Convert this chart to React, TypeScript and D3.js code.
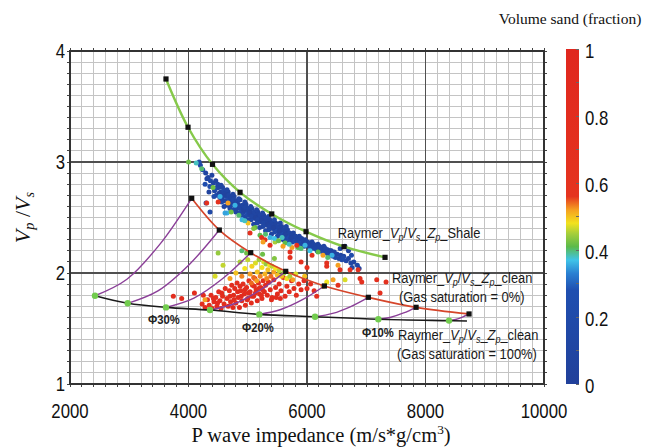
import React from 'react';
import * as d3 from 'd3';

// ---------- axes / ticks ----------
const xTicks = [2000, 4000, 6000, 8000, 10000];
const yTicks = [1, 2, 3, 4];
const cbTicks = [0, 0.2, 0.4, 0.6, 0.8, 1];
const cbTickLabels = ['0', '0.2', '0.4', '0.6', '0.8', '1'];

// ---------- model curves (Zp in m/s*g/cm3, Vp/Vs) ----------
const shaleZp = [3620, 3992, 4405, 4870, 5405, 5984, 6625, 7317];
const shaleVpVs = [3.748, 3.313, 2.979, 2.727, 2.532, 2.372, 2.237, 2.141];
const brineZp = [4054, 4520, 5050, 5641, 6293, 7035, 7841, 8735];
const brineVpVs = [2.673, 2.387, 2.183, 2.015, 1.883, 1.781, 1.691, 1.631];
const gasZp = [2422, 2974, 3620, 4363, 5195, 6136, 7204, 8397];
const gasVpVs = [1.795, 1.727, 1.69, 1.666, 1.627, 1.606, 1.583, 1.571];
const gasLineEnd = [8700, 1.568];
// intermediate points read along each fluid-substitution (purple) curve
const fluidA_Zp = [2961, 3484, 4092, 4785, 5557, 6433, 7414, 8509];
const fluidA_VpVs = [1.944, 1.839, 1.774, 1.725, 1.671, 1.636, 1.601, 1.581];
const fluidB_Zp = [3515, 4010, 4578, 5219, 5931, 6738, 7631, 8623];
const fluidB_VpVs = [2.258, 2.075, 1.95, 1.85, 1.762, 1.698, 1.64, 1.603];

// ---------- well-log samples [Zp, Vp/Vs, Vsand] ----------
const shaleTrend = [
  [4200, 2.97, .15], [4240, 2.93, .2], [4290, 2.9, .1], [4310, 2.85, .12], [4280, 2.8, .25],
  [4330, 2.86, .1], [4370, 2.83, .15], [4360, 2.78, .2], [4395, 2.88, .08], [4345, 2.73, .05],
  [4420, 2.81, .1], [4440, 2.74, .12], [4460, 2.83, .05], [4470, 2.7, .18], [4480, 2.77, .1], [4430, 2.69, .22], [4495, 2.8, .1], [4455, 2.76, .2],
  [4510, 2.77, .1], [4530, 2.68, .15], [4545, 2.73, .08], [4560, 2.64, .2], [4575, 2.77, .1], [4590, 2.7, .12], [4520, 2.72, .05], [4565, 2.67, .1], [4598, 2.74, .15],
  [4610, 2.72, .1], [4625, 2.65, .1], [4640, 2.69, .2], [4655, 2.61, .12], [4670, 2.73, .08], [4685, 2.66, .15], [4695, 2.62, .1], [4630, 2.7, .05], [4680, 2.7, .12],
  [4710, 2.68, .1], [4720, 2.61, .15], [4740, 2.65, .08], [4755, 2.57, .2], [4770, 2.69, .1], [4780, 2.63, .12], [4795, 2.59, .1], [4735, 2.62, .05], [4760, 2.66, .15],
  [4810, 2.65, .1], [4825, 2.58, .12], [4840, 2.62, .1], [4855, 2.54, .15], [4870, 2.66, .08], [4885, 2.6, .1], [4895, 2.56, .2], [4830, 2.61, .05], [4865, 2.59, .12],
  [4910, 2.61, .1], [4925, 2.55, .1], [4940, 2.58, .15], [4955, 2.51, .12], [4970, 2.62, .08], [4985, 2.56, .1], [4995, 2.53, .2], [4930, 2.57, .05], [4965, 2.59, .12],
  [5010, 2.58, .1], [5025, 2.52, .12], [5040, 2.55, .1], [5055, 2.48, .15], [5070, 2.58, .08], [5085, 2.53, .1], [5095, 2.5, .2], [5035, 2.54, .05], [5065, 2.51, .12],
  [5110, 2.55, .1], [5125, 2.49, .12], [5140, 2.52, .1], [5155, 2.45, .15], [5170, 2.55, .08], [5185, 2.5, .1], [5195, 2.47, .2], [5135, 2.5, .05], [5165, 2.48, .12],
  [5210, 2.52, .1], [5225, 2.46, .12], [5240, 2.49, .1], [5255, 2.42, .15], [5270, 2.52, .08], [5285, 2.47, .1], [5295, 2.44, .2], [5235, 2.47, .05], [5265, 2.45, .12],
  [5310, 2.49, .1], [5325, 2.43, .12], [5340, 2.46, .1], [5355, 2.39, .15], [5370, 2.48, .08], [5385, 2.44, .1], [5395, 2.41, .2], [5335, 2.44, .05], [5365, 2.42, .12],
  [5410, 2.45, .1], [5425, 2.4, .12], [5440, 2.43, .1], [5455, 2.37, .15], [5470, 2.45, .08], [5485, 2.41, .1], [5495, 2.38, .2], [5435, 2.41, .05],
  [5510, 2.42, .1], [5525, 2.37, .12], [5540, 2.4, .1], [5555, 2.34, .15], [5570, 2.42, .08], [5585, 2.38, .1], [5595, 2.35, .2], [5535, 2.38, .05],
  [5610, 2.39, .1], [5625, 2.34, .12], [5640, 2.37, .1], [5655, 2.31, .15], [5670, 2.39, .08], [5685, 2.35, .1], [5695, 2.32, .2], [5635, 2.35, .05],
  [5710, 2.36, .1], [5725, 2.31, .12], [5740, 2.34, .1], [5755, 2.28, .15], [5770, 2.36, .08], [5785, 2.32, .1], [5795, 2.29, .2], [5735, 2.32, .05],
  [5810, 2.33, .1], [5825, 2.29, .12], [5840, 2.31, .1], [5855, 2.26, .15], [5870, 2.33, .08], [5885, 2.3, .1], [5895, 2.27, .2],
  [5910, 2.31, .1], [5925, 2.26, .12], [5940, 2.29, .1], [5955, 2.24, .15], [5970, 2.3, .08], [5985, 2.27, .1], [5995, 2.25, .2],
  [6010, 2.28, .1], [6030, 2.24, .12], [6050, 2.27, .1], [6070, 2.22, .15], [6085, 2.28, .08], [6095, 2.25, .1],
  [6110, 2.26, .1], [6130, 2.22, .12], [6150, 2.25, .1], [6170, 2.2, .15], [6185, 2.26, .08], [6195, 2.23, .1],
  [6210, 2.24, .1], [6230, 2.2, .12], [6250, 2.23, .1], [6270, 2.18, .15], [6285, 2.24, .08], [6295, 2.21, .1],
  [6310, 2.22, .1], [6330, 2.18, .12], [6350, 2.21, .1], [6370, 2.16, .15], [6390, 2.2, .08],
  [6410, 2.2, .1], [6440, 2.15, .12], [6460, 2.19, .1], [6480, 2.14, .15],
  [6510, 2.17, .1], [6540, 2.13, .12], [6570, 2.16, .1], [6590, 2.12, .2],
  [6620, 2.15, .1], [6660, 2.11, .15], [6700, 2.13, .1], [6740, 2.09, .12], [6790, 2.1, .1], [6850, 2.07, .15], [6880, 2.04, .1],
  [6640, 2.24, .15], [6700, 2.2, .1], [6750, 2.16, .2], [6560, 2.22, .1], [6608, 2.135, .2], [6760, 2.05, .15],
  [4363, 2.55, .15], [4296, 2.63, .2], [4180, 3.0, .2],
  [4600, 2.6, .1], [4700, 2.58, .12], [4800, 2.55, .1], [4900, 2.52, .15], [5000, 2.48, .1], [5100, 2.44, .12],
  [5200, 2.41, .1], [5300, 2.38, .15], [5400, 2.35, .1], [5500, 2.33, .12], [5600, 2.3, .1], [5700, 2.28, .12],
  [4550, 2.79, .1], [4650, 2.75, .12], [4750, 2.71, .1], [4850, 2.67, .15], [4950, 2.64, .1], [5050, 2.6, .12],
  [5150, 2.57, .1], [5250, 2.54, .12], [5350, 2.51, .1], [5450, 2.48, .15], [5550, 2.45, .1], [5650, 2.42, .12]
];

const shaleEdge = [
  [4000, 3.0, .42], [4130, 2.99, .38], [4223, 2.94, .4], [4414, 2.77, .42], [4532, 2.69, .36], [4500, 2.64, .62],
  [4667, 2.63, .52], [4650, 2.54, .36], [4903, 2.48, .36], [5038, 2.36, .65], [5207, 2.34, .41], [5291, 2.3, .7],
  [5376, 2.32, .36], [5460, 2.28, .45], [5629, 2.27, .41], [5747, 2.23, .52], [5714, 2.19, .7], [5849, 2.23, .41],
  [5967, 2.25, .36], [6186, 2.19, .41], [6270, 2.16, .52], [6085, 2.16, .7], [6422, 2.16, .36], [5005, 2.45, .5],
  [4785, 2.61, .36], [5123, 2.41, .41], [5579, 2.32, .38], [4307, 2.63, .7], [4617, 2.54, .35], [5236, 2.32, .68],
  [5258, 2.28, .52], [5376, 2.25, .7], [5595, 2.24, .52], [5827, 2.25, .7],
  [4950, 2.47, .38], [5100, 2.4, .43], [5300, 2.35, .4], [5450, 2.31, .37], [5520, 2.29, .42], [5700, 2.26, .38],
  [5900, 2.22, .4], [6050, 2.2, .37], [6350, 2.14, .4], [4850, 2.52, .4], [4720, 2.55, .42],
  [6333, 2.06, .7], [6524, 2.07, .52], [6895, 1.95, .7], [6440, 1.94, .52], [6333, 1.92, .48], [6727, 2.03, .7],
  [6524, 1.89, .7], [7334, 1.92, .7], [7233, 1.82, .7], [6164, 1.79, .7], [7177, 1.94, .7], [6924, 1.92, .7],
  [6642, 1.94, .47], [6333, 2.09, .7], [6557, 2.03, .7], [6862, 2.03, .7], [6270, 1.88, .52], [5714, 2.14, .7],
  [5900, 2.1, .7], [6000, 2.05, .65]
];

const sandCloud = [
  [3744, 1.79, .8], [3885, 1.77, .8], [4100, 1.82, .8], [4250, 1.8, .8], [4230, 1.72, .8], [4280, 1.69, .9],
  [4320, 1.76, .8], [4350, 1.71, .7], [4380, 1.8, .8], [4400, 1.68, .9], [4430, 1.74, .8], [4460, 1.78, .7],
  [4480, 1.7, .8], [4510, 1.83, .8], [4530, 1.75, .9], [4550, 1.68, .8], [4575, 1.79, .8], [4600, 1.72, .7],
  [4620, 1.86, .8], [4560, 1.82, .8], [4420, 1.77, .8], [4490, 1.73, .9],
  [4650, 1.77, .8], [4670, 1.7, .8], [4690, 1.84, .7], [4710, 1.74, .8], [4730, 1.89, .8], [4750, 1.69, .9],
  [4760, 1.8, .8], [4780, 1.86, .8], [4800, 1.73, .8], [4820, 1.91, .7], [4840, 1.78, .8], [4860, 1.69, .9],
  [4880, 1.84, .8], [4900, 1.75, .8], [4920, 1.9, .7], [4940, 1.81, .8], [4960, 1.71, .8], [4980, 1.87, .8],
  [5000, 1.77, .9], [5020, 1.93, .7], [5040, 1.83, .8], [5060, 1.73, .8], [5080, 1.89, .8], [5100, 1.79, .8],
  [5120, 1.95, .7], [5140, 1.85, .8], [5160, 1.75, .9], [5180, 1.91, .8], [5200, 1.81, .8], [5220, 1.87, .8],
  [5240, 1.77, .8], [5260, 1.93, .7], [5280, 1.83, .8], [5300, 1.89, .8],
  [4700, 1.79, .8], [4770, 1.76, .8], [4830, 1.83, .8], [4890, 1.79, .9], [4950, 1.85, .8], [5010, 1.82, .8],
  [5070, 1.79, .8], [5130, 1.82, .8], [5190, 1.86, .8], [5250, 1.85, .8], [4870, 1.88, .8], [4990, 1.76, .8],
  [5110, 1.88, .8], [5230, 1.8, .8],
  [5330, 1.8, .8], [5350, 1.92, .8], [5380, 1.85, .8], [5410, 1.78, .8], [5440, 1.94, .7], [5470, 1.87, .8],
  [5500, 1.81, .8], [5530, 1.9, .8], [5560, 1.84, .8], [5600, 1.96, .7], [5630, 1.79, .8], [5660, 1.88, .8],
  [5700, 1.83, .8], [5740, 1.93, .8], [5780, 1.86, .8], [5820, 1.8, .8], [5860, 1.9, .8], [5900, 1.85, .8],
  [5950, 1.93, .8], [6000, 1.86, .8], [6060, 1.9, .8], [6120, 1.84, .8], [5400, 1.76, .8], [5480, 1.78, .8],
  [5550, 1.77, .8],
  [4448, 1.97, .47], [4583, 2.07, .46], [4279, 1.76, .52], [4700, 1.95, .52], [4800, 2.0, .5], [4870, 2.1, .45],
  [4900, 1.97, .53], [4950, 2.04, .48], [5000, 2.12, .46], [5040, 1.99, .52], [5070, 2.06, .49], [5100, 1.96, .54],
  [5130, 2.09, .47], [5160, 2.01, .5], [5190, 2.12, .45], [5210, 1.97, .53], [5240, 2.05, .48], [5270, 2.1, .47],
  [5290, 1.99, .51], [5310, 2.08, .44], [5340, 2.03, .5], [5370, 2.07, .48], [5390, 1.97, .54], [5410, 2.06, .46],
  [5440, 2.01, .52], [5470, 2.04, .48], [5500, 1.98, .5], [5530, 2.02, .46], [5570, 1.97, .5], [5610, 2.0, .44],
  [5660, 1.95, .48], [5710, 1.97, .45], [5760, 1.94, .52], [5810, 1.99, .47], [5960, 1.97, .5], [4980, 2.18, .42],
  [5450, 2.13, .43], [5250, 2.17, .42], [4900, 2.2, .4], [4500, 2.18, .44], [5150, 1.93, .52], [5320, 1.95, .53],
  [5060, 1.91, .54]
];

// ---------- colour scale ----------
const colorStops = [0, 0.28, 0.33, 0.37, 0.41, 0.45, 0.48, 0.52, 0.56, 1];
const colorHex = ['#21409a', '#1f4fb0', '#2a80d2', '#3fc4e8', '#5cba4a', '#a8cf3a', '#f2e21e', '#f5a021', '#e5341f', '#e0271e'];

// ---------- annotation anchors (data coords) ----------
const shaleLabel = [6520, 2.315];
const brineLabel = [7435, 1.91];
const brineLabel2 = [7553, 1.739];
const gasLabel = [7536, 1.396];
const gasLabel2 = [7520, 1.225];
const phiLabels = ['Φ30%', 'Φ20%', 'Φ10%'];
const phiZp = [3317, 4903, 6929];
const phiVpVs = [1.541, 1.468, 1.423];

const SANS = '"Liberation Sans", Arial, sans-serif';
const SERIF = '"Liberation Serif", "Times New Roman", serif';

function RaymerName({ suffix }: { suffix: string }) {
  return (
    <>
      <tspan>Raymer_</tspan>
      <tspan fontStyle="italic">V</tspan>
      <tspan fontStyle="italic" fontSize="70%" dy={3}>p</tspan>
      <tspan dy={-3}>/</tspan>
      <tspan fontStyle="italic">V</tspan>
      <tspan fontStyle="italic" fontSize="70%" dy={3}>s</tspan>
      <tspan dy={-3}>_</tspan>
      <tspan fontStyle="italic">Z</tspan>
      <tspan fontStyle="italic" fontSize="70%" dy={3}>p</tspan>
      <tspan dy={-3}>{suffix}</tspan>
    </>
  );
}

export default function App() {
  const W = 654, H = 448;
  const x = d3.scaleLinear().domain([2000, 10000]).range([70, 544]);
  const y = d3.scaleLinear().domain([1, 4]).range([384, 51]);
  const cb = d3.scaleLinear().domain([0, 1]).range([384, 49]);
  const color = d3.scaleLinear<string>().domain(colorStops).range(colorHex).clamp(true);

  const zip = (a: number[], b: number[]) => a.map((v, i) => [v, b[i]] as [number, number]);
  const mk = (curve: any) => d3.line<[number, number]>().x(d => x(d[0])).y(d => y(d[1])).curve(curve);

  const shalePts = zip(shaleZp, shaleVpVs);
  const brinePts = zip(brineZp, brineVpVs);
  const gasPts = zip(gasZp, gasVpVs);
  const shalePath = mk(d3.curveCatmullRom)(shalePts);
  const brinePath = mk(d3.curveCatmullRom)(brinePts);
  const gasPath = mk(d3.curveCatmullRom)([...gasPts, gasLineEnd as [number, number]]);
  const fluidPaths = gasPts.map((g, i) =>
    mk(d3.curveCatmullRom)([g, [fluidA_Zp[i], fluidA_VpVs[i]], [fluidB_Zp[i], fluidB_VpVs[i]], brinePts[i]]));

  const minorX = d3.range(2000, 10001, 200);
  const minorY = d3.range(10, 41, 1).map(v => v / 10);
  const cbMinor = d3.range(0, 11, 1).map(v => v / 10);

  const x0 = x(2000), x1 = x(10000), y0 = y(1), y1 = y(4);
  const sx = 0.86;

  const allPts = [...shaleTrend, ...shaleEdge, ...sandCloud];

  return (
    <div style={{ position: 'absolute', left: 0, top: 0 }}>
      <svg width={W} height={H} style={{ display: 'block', background: '#fff' }}>
        <defs>
          <linearGradient id="cbgrad" x1="0" y1="1" x2="0" y2="0">
            {colorStops.map((s, i) => <stop key={i} offset={s} stopColor={colorHex[i]} />)}
          </linearGradient>
        </defs>

        {/* minor grid */}
        <g stroke="#c4c4c4" strokeWidth={1} shapeRendering="crispEdges">
          {minorX.map((v, i) => <line key={'mx' + i} x1={x(v)} x2={x(v)} y1={y1} y2={y0} />)}
          {minorY.map((v, i) => <line key={'my' + i} x1={x0} x2={x1} y1={y(v)} y2={y(v)} />)}
        </g>
        {/* minor ticks outside */}
        <g stroke="#444" strokeWidth={1} shapeRendering="crispEdges">
          {minorX.map((v, i) => <line key={'tb' + i} x1={x(v)} x2={x(v)} y1={y0} y2={y0 + 3} />)}
          {minorX.map((v, i) => <line key={'tt' + i} x1={x(v)} x2={x(v)} y1={y1} y2={y1 - 3} />)}
          {minorY.map((v, i) => <line key={'tl' + i} x1={x0} x2={x0 - 3} y1={y(v)} y2={y(v)} />)}
          {minorY.map((v, i) => <line key={'tr' + i} x1={x1} x2={x1 + 3} y1={y(v)} y2={y(v)} />)}
        </g>
        {/* major grid */}
        <g stroke="#505050" strokeWidth={1.3} shapeRendering="crispEdges">
          {xTicks.slice(1, -1).map((v, i) => <line key={'Mx' + i} x1={x(v)} x2={x(v)} y1={y1} y2={y0} />)}
          {yTicks.slice(1, -1).map((v, i) => <line key={'My' + i} x1={x0} x2={x1} y1={y(v)} y2={y(v)} />)}
        </g>
        <rect x={x0} y={y1} width={x1 - x0} height={y0 - y1} fill="none" stroke="#333" strokeWidth={1.5} shapeRendering="crispEdges" />

        {/* tick labels */}
        <g fontFamily={SANS} fontSize={19.5} fill="#111">
          {xTicks.map((v, i) => (
            <text key={'xl' + i} transform={`translate(${x(v)},${y0 + 34}) scale(${sx},1)`} textAnchor="middle">{v}</text>
          ))}
          {yTicks.map((v, i) => (
            <text key={'yl' + i} transform={`translate(${x0 - 5},${y(v) + 7}) scale(${sx},1)`} textAnchor="end">{v}</text>
          ))}
        </g>

        {/* scatter */}
        <g>
          {allPts.map((p, i) => (
            <circle key={'p' + i} cx={x(p[0])} cy={y(p[1])} r={2.5} fill={color(p[2])} />
          ))}
        </g>

        {/* fluid substitution curves */}
        <g fill="none" stroke="#8b3f98" strokeWidth={1.4}>
          {fluidPaths.map((d, i) => <path key={'f' + i} d={d || ''} />)}
        </g>
        <path d={gasPath || ''} fill="none" stroke="#1a1a1a" strokeWidth={1.6} />
        <path d={brinePath || ''} fill="none" stroke="#d5452a" strokeWidth={1.7} />
        <path d={shalePath || ''} fill="none" stroke="#86c94a" strokeWidth={2.4} />

        {/* markers */}
        <g fill="#111">
          {[...shalePts, ...brinePts].map((p, i) => (
            <rect key={'s' + i} x={x(p[0]) - 2.6} y={y(p[1]) - 2.6} width={5.2} height={5.2} />
          ))}
        </g>
        <g fill="#72cc4e">
          {gasPts.map((p, i) => <circle key={'g' + i} cx={x(p[0])} cy={y(p[1])} r={3.2} />)}
        </g>

        {/* annotations */}
        <g fontFamily={SANS} fontSize={15.5} fill="#1a1a1a">
          <text transform={`translate(${x(shaleLabel[0])},${y(shaleLabel[1])}) scale(0.83,1)`}><RaymerName suffix="_Shale" /></text>
          <text transform={`translate(${x(brineLabel[0])},${y(brineLabel[1])}) scale(0.83,1)`}><RaymerName suffix="_clean" /></text>
          <text transform={`translate(${x(brineLabel2[0])},${y(brineLabel2[1])}) scale(0.83,1)`}>(Gas saturation = 0%)</text>
          <text transform={`translate(${x(gasLabel[0])},${y(gasLabel[1])}) scale(0.83,1)`}><RaymerName suffix="_clean" /></text>
          <text transform={`translate(${x(gasLabel2[0])},${y(gasLabel2[1])}) scale(0.83,1)`}>(Gas saturation = 100%)</text>
        </g>
        <g fontFamily={SANS} fontSize={12.5} fontWeight="bold" fill="#222">
          {phiLabels.map((t, i) => (
            <text key={'phi' + i} transform={`translate(${x(phiZp[i])},${y(phiVpVs[i])}) scale(0.9,1)`}>{t}</text>
          ))}
        </g>

        {/* axis titles */}
        <text x={321} y={442} textAnchor="middle" fontFamily={SERIF} fontSize={20.5} fill="#111">
          P wave impedance (m/s*g/cm<tspan fontSize="65%" dy={-8}>3</tspan><tspan dy={8}>)</tspan>
        </text>
        <text transform={`translate(30,${(y0 + y1) / 2}) rotate(-90)`} textAnchor="middle" fontFamily={SERIF} fontSize={22} fill="#111">
          <tspan fontStyle="italic">V</tspan>
          <tspan fontStyle="italic" fontSize="65%" dy={4}>p</tspan>
          <tspan dy={-4}> /</tspan>
          <tspan fontStyle="italic">V</tspan>
          <tspan fontStyle="italic" fontSize="65%" dy={4}>s</tspan>
        </text>

        {/* colour bar */}
        <rect x={566} y={cb(1)} width={13} height={cb(0) - cb(1)} fill="url(#cbgrad)" />
        <g stroke="#666" strokeWidth={1} shapeRendering="crispEdges">
          {cbMinor.map((v, i) => <line key={'cbt' + i} x1={576} x2={579} y1={cb(v)} y2={cb(v)} />)}
        </g>
        <g fontFamily={SANS} fontSize={19.5} fill="#111">
          {cbTicks.map((v, i) => (
            <text key={'cbl' + i} transform={`translate(585,${cb(v) + 9}) scale(${sx},1)`}>{cbTickLabels[i]}</text>
          ))}
        </g>
        <text x={570} y={24} textAnchor="middle" fontFamily={SERIF} fontSize={15.5} fill="#111">Volume sand (fraction)</text>
      </svg>
    </div>
  );
}
